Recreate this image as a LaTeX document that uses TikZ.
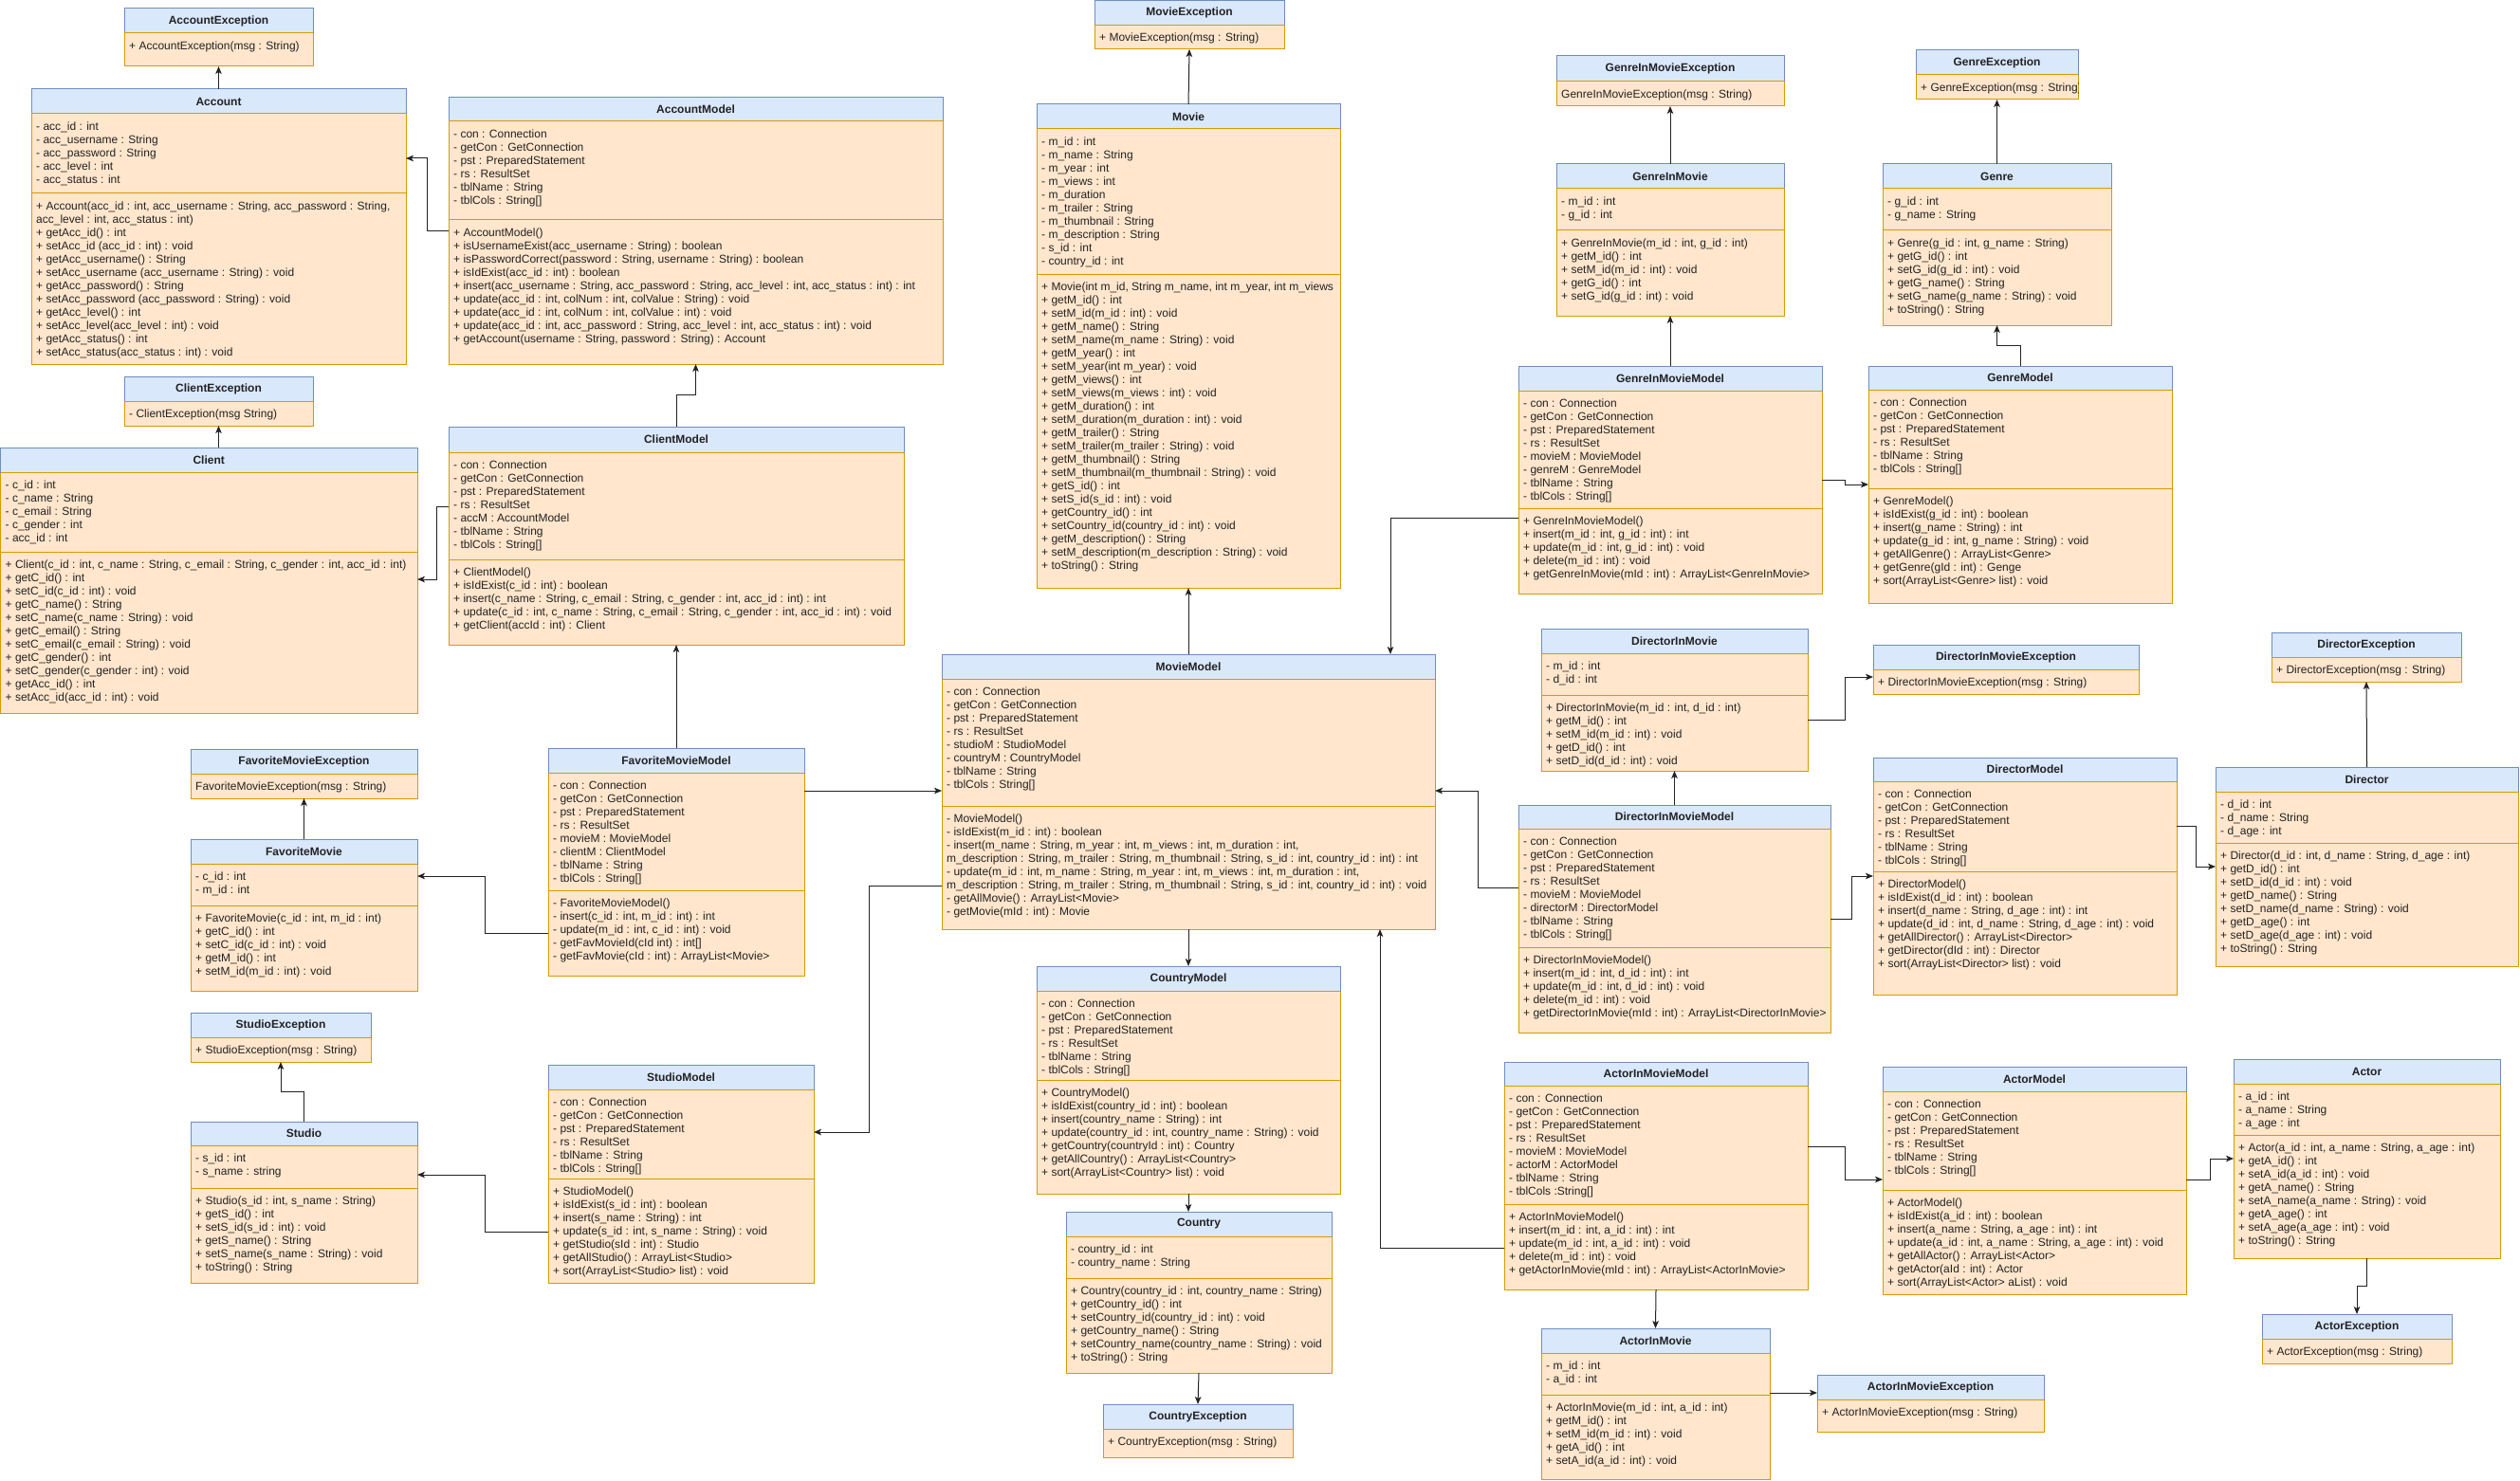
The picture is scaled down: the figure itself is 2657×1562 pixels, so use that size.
\documentclass[tikz,border=0pt]{standalone}
\usepackage{fontspec}
\setmainfont{Liberation Sans}
\usetikzlibrary{arrows.meta,fit}

\definecolor{headfill}{HTML}{DAE8FC}
\definecolor{headline}{HTML}{6C8EBF}
\definecolor{bodyfill}{HTML}{FFE6CC}
\definecolor{bodyline}{HTML}{D79B00}
\definecolor{ink}{HTML}{222222}

\tikzset{
  frame/.style={inner sep=0pt, outer sep=0pt},
  headbox/.style={fill=headfill, draw=headline, line width=1pt},
  bodybox/.style={fill=bodyfill, draw=bodyline, line width=1pt},
  sepline/.style={draw=bodyline, line width=1pt},
  classtitle/.style={font=\bfseries\fontsize{12pt}{14pt}\selectfont, text=ink, inner sep=0pt},
  members/.style={font=\fontsize{12pt}{14pt}\selectfont, text=ink, inner sep=0pt,
    anchor=base west, xshift=5pt, yshift=-17.5pt},
  link/.style={draw=ink, line width=1pt, -{Stealth[length=8pt,width=6.5pt,inset=2pt]}},
}

\newcommand\memberlist[1]{\parbox[t]{1200pt}{#1}}

% class box: name, top-left, bottom-right, header bottom, divider, title, attributes, operations
\newcommand\umlclass[8]{%
  \node[frame, fit={(#2) (#3)}] (#1) {};
  \path[bodybox] (#1.west |- 0,#4) rectangle (#1.south east);
  \path[headbox] (#1.north west) rectangle (#1.east |- 0,#4);
  \draw[sepline] (#1.west |- 0,#4) -- (#1.east |- 0,#4);
  \draw[sepline] (#1.west |- 0,#5) -- (#1.east |- 0,#5);
  \path (#1.north) -- (#1.north |- 0,#4) node[midway, classtitle] {#6};
  \begin{scope}
    \clip (#1.north west) rectangle (#1.south east);
    \node[members] at (#1.west |- 0,#4) {\memberlist{#7}};
    \node[members] at (#1.west |- 0,#5) {\memberlist{#8}};
  \end{scope}
}

% exception box: name, top-left, bottom-right, header bottom, title, constructor
\newcommand\umlexc[6]{%
  \node[frame, fit={(#2) (#3)}] (#1) {};
  \path[bodybox] (#1.west |- 0,#4) rectangle (#1.south east);
  \path[headbox] (#1.north west) rectangle (#1.east |- 0,#4);
  \draw[sepline] (#1.west |- 0,#4) -- (#1.east |- 0,#4);
  \path (#1.north) -- (#1.north |- 0,#4) node[midway, classtitle] {#5};
  \begin{scope}
    \clip (#1.north west) rectangle (#1.south east);
    \node[members] at (#1.west |- 0,#4) {\memberlist{#6}};
  \end{scope}
}

\catcode`\_=12

\begin{document}
\begin{tikzpicture}[x=1pt,y=-1pt]
\useasboundingbox (0,0) rectangle (2657,1562);
\fill[white] (0,0) rectangle (2657,1562);

% ---------------- account ----------------
\umlexc{accountexc}{131,9}{330,70}{35}{AccountException}{+ AccountException(msg : String)}
\umlclass{account}{33,94}{428,384}{120}{204}{Account}
{- acc_id : int\\- acc_username : String\\- acc_password : String\\- acc_level : int\\- acc_status : int}
{+ Account(acc_id : int, acc_username : String, acc_password : String,\\acc_level : int, acc_status : int)\\+ getAcc_id() : int\\+ setAcc_id (acc_id : int) : void\\+ getAcc_username() : String\\+ setAcc_username (acc_username : String) : void\\+ getAcc_password() : String\\+ setAcc_password (acc_password : String) : void\\+ getAcc_level() : int\\+ setAcc_level(acc_level : int) : void\\+ getAcc_status() : int\\+ setAcc_status(acc_status : int) : void}
\umlclass{accountmodel}{473,103}{994,384}{128}{232}{AccountModel}
{- con : Connection\\- getCon : GetConnection\\- pst : PreparedStatement\\- rs : ResultSet\\- tblName : String\\- tblCols : String[]}
{+ AccountModel()\\+ isUsernameExist(acc_username : String) : boolean\\+ isPasswordCorrect(password : String, username : String) : boolean\\+ isIdExist(acc_id : int) : boolean\\+ insert(acc_username : String, acc_password : String, acc_level : int, acc_status : int) : int\\+ update(acc_id : int, colNum : int, colValue : String) : void\\+ update(acc_id : int, colNum : int, colValue : int) : void\\+ update(acc_id : int, acc_password : String, acc_level : int, acc_status : int) : void\\+ getAccount(username : String, password : String) : Account}

% ---------------- client ----------------
\umlexc{clientexc}{131,397}{330,449}{423}{ClientException}{- ClientException(msg String)}
\umlclass{client}{0.5,472}{440,752}{498}{582}{Client}
{- c_id : int\\- c_name : String\\- c_email : String\\- c_gender : int\\- acc_id : int}
{+ Client(c_id : int, c_name : String, c_email : String, c_gender : int, acc_id : int)\\+ getC_id() : int\\+ setC_id(c_id : int) : void\\+ getC_name() : String\\+ setC_name(c_name : String) : void\\+ getC_email() : String\\+ setC_email(c_email : String) : void\\+ getC_gender() : int\\+ setC_gender(c_gender : int) : void\\+ getAcc_id() : int\\+ setAcc_id(acc_id : int) : void}
\umlclass{clientmodel}{473,450}{953,680}{477}{590}{ClientModel}
{- con : Connection\\- getCon : GetConnection\\- pst : PreparedStatement\\- rs : ResultSet\\- accM : AccountModel\\- tblName : String\\- tblCols : String[]}
{+ ClientModel()\\+ isIdExist(c_id : int) : boolean\\+ insert(c_name : String, c_email : String, c_gender : int, acc_id : int) : int\\+ update(c_id : int, c_name : String, c_email : String, c_gender : int, acc_id : int) : void\\+ getClient(accId : int) : Client}

% ---------------- favorite movie ----------------
\umlexc{favexc}{201,790}{440,842}{816}{FavoriteMovieException}{FavoriteMovieException(msg : String)}
\umlclass{favmovie}{201,885}{440,1045}{911}{955}{FavoriteMovie}
{- c_id : int\\- m_id : int}
{+ FavoriteMovie(c_id : int, m_id : int)\\+ getC_id() : int\\+ setC_id(c_id : int) : void\\+ getM_id() : int\\+ setM_id(m_id : int) : void}
\umlclass{favmodel}{578,789}{848,1029}{815}{939}{FavoriteMovieModel}
{- con : Connection\\- getCon : GetConnection\\- pst : PreparedStatement\\- rs : ResultSet\\- movieM : MovieModel\\- clientM : ClientModel\\- tblName : String\\- tblCols : String[]}
{- FavoriteMovieModel()\\- insert(c_id : int, m_id : int) : int\\- update(m_id : int, c_id : int) : void\\- getFavMovieId(cId int) : int[]\\- getFavMovie(cId : int) : ArrayList<Movie>}

% ---------------- studio ----------------
\umlexc{studioexc}{201,1068}{391,1120}{1094}{StudioException}{+ StudioException(msg : String)}
\umlclass{studio}{201,1183}{440,1353}{1208}{1253}{Studio}
{- s_id : int\\- s_name : string}
{+ Studio(s_id : int, s_name : String)\\+ getS_id() : int\\+ setS_id(s_id : int) : void\\+ getS_name() : String\\+ setS_name(s_name : String) : void\\+ toString() : String}
\umlclass{studiomodel}{578,1123}{858,1353}{1149}{1243}{StudioModel}
{- con : Connection\\- getCon : GetConnection\\- pst : PreparedStatement\\- rs : ResultSet\\- tblName : String\\- tblCols : String[]}
{+ StudioModel()\\+ isIdExist(s_id : int) : boolean\\+ insert(s_name : String) : int\\+ update(s_id : int, s_name : String) : void\\+ getStudio(sId : int) : Studio\\+ getAllStudio() : ArrayList<Studio>\\+ sort(ArrayList<Studio> list) : void}

% ---------------- movie ----------------
\umlexc{movieexc}{1154,1}{1354,52}{26.5}{MovieException}{+ MovieException(msg : String)}
\umlclass{movie}{1093,110}{1413,620}{136}{289}{Movie}
{- m_id : int\\- m_name : String\\- m_year : int\\- m_views : int\\- m_duration\\- m_trailer : String\\- m_thumbnail : String\\- m_description : String\\- s_id : int\\- country_id : int}
{+ Movie(int m_id, String m_name, int m_year, int m_views\\+ getM_id() : int\\+ setM_id(m_id : int) : void\\+ getM_name() : String\\+ setM_name(m_name : String) : void\\+ getM_year() : int\\+ setM_year(int m_year) : void\\+ getM_views() : int\\+ setM_views(m_views : int) : void\\+ getM_duration() : int\\+ setM_duration(m_duration : int) : void\\+ getM_trailer() : String\\+ setM_trailer(m_trailer : String) : void\\+ getM_thumbnail() : String\\+ setM_thumbnail(m_thumbnail : String) : void\\+ getS_id() : int\\+ setS_id(s_id : int) : void\\+ getCountry_id() : int\\+ setCountry_id(country_id : int) : void\\+ getM_description() : String\\+ setM_description(m_description : String) : void\\+ toString() : String}
\umlclass{moviemodel}{993,690}{1513,980}{716}{850}{MovieModel}
{- con : Connection\\- getCon : GetConnection\\- pst : PreparedStatement\\- rs : ResultSet\\- studioM : StudioModel\\- countryM : CountryModel\\- tblName : String\\- tblCols : String[]}
{- MovieModel()\\- isIdExist(m_id : int) : boolean\\- insert(m_name : String, m_year : int, m_views : int, m_duration : int,\\m_description : String, m_trailer : String, m_thumbnail : String, s_id : int, country_id : int) : int\\- update(m_id : int, m_name : String, m_year : int, m_views : int, m_duration : int,\\m_description : String, m_trailer : String, m_thumbnail : String, s_id : int, country_id : int) : void\\- getAllMovie() : ArrayList<Movie>\\- getMovie(mId : int) : Movie}

% ---------------- country ----------------
\umlclass{countrymodel}{1093,1019}{1413,1259}{1045}{1139}{CountryModel}
{- con : Connection\\- getCon : GetConnection\\- pst : PreparedStatement\\- rs : ResultSet\\- tblName : String\\- tblCols : String[]}
{+ CountryModel()\\+ isIdExist(country_id : int) : boolean\\+ insert(country_name : String) : int\\+ update(country_id : int, country_name : String) : void\\+ getCountry(countryId : int) : Country\\+ getAllCountry() : ArrayList<Country>\\+ sort(ArrayList<Country> list) : void}
\umlclass{country}{1124,1278}{1404,1448}{1304}{1348}{Country}
{- country_id : int\\- country_name : String}
{+ Country(country_id : int, country_name : String)\\+ getCountry_id() : int\\+ setCountry_id(country_id : int) : void\\+ getCountry_name() : String\\+ setCountry_name(country_name : String) : void\\+ toString() : String}
\umlexc{countryexc}{1163,1481}{1363,1537}{1507}{CountryException}{+ CountryException(msg : String)}

% ---------------- genre ----------------
\umlexc{gimexc}{1641,59}{1881,112}{86}{GenreInMovieException}{GenreInMovieException(msg : String)}
\umlexc{genreexc}{2020,53}{2191,105}{79}{GenreException}{+ GenreException(msg : String)}
\umlclass{gim}{1641,173}{1881,333}{199}{243}{GenreInMovie}
{- m_id : int\\- g_id : int}
{+ GenreInMovie(m_id : int, g_id : int)\\+ getM_id() : int\\+ setM_id(m_id : int) : void\\+ getG_id() : int\\+ setG_id(g_id : int) : void}
\umlclass{genre}{1985,173}{2226,343}{199}{243}{Genre}
{- g_id : int\\- g_name : String}
{+ Genre(g_id : int, g_name : String)\\+ getG_id() : int\\+ setG_id(g_id : int) : void\\+ getG_name() : String\\+ setG_name(g_name : String) : void\\+ toString() : String}
\umlclass{gimm}{1601,386}{1921,626}{412}{536}{GenreInMovieModel}
{- con : Connection\\- getCon : GetConnection\\- pst : PreparedStatement\\- rs : ResultSet\\- movieM : MovieModel\\- genreM : GenreModel\\- tblName : String\\- tblCols : String[]}
{+ GenreInMovieModel()\\+ insert(m_id : int, g_id : int) : int\\+ update(m_id : int, g_id : int) : void\\+ delete(m_id : int) : void\\+ getGenreInMovie(mId : int) : ArrayList<GenreInMovie>}
\umlclass{genremodel}{1970,386}{2290,636}{411}{515}{GenreModel}
{- con : Connection\\- getCon : GetConnection\\- pst : PreparedStatement\\- rs : ResultSet\\- tblName : String\\- tblCols : String[]}
{+ GenreModel()\\+ isIdExist(g_id : int) : boolean\\+ insert(g_name : String) : int\\+ update(g_id : int, g_name : String) : void\\+ getAllGenre() : ArrayList<Genre>\\+ getGenre(gId : int) : Genge\\+ sort(ArrayList<Genre> list) : void}

% ---------------- director ----------------
\umlclass{dim}{1625,663}{1906,813}{689}{733}{DirectorInMovie}
{- m_id : int\\- d_id : int}
{+ DirectorInMovie(m_id : int, d_id : int)\\+ getM_id() : int\\+ setM_id(m_id : int) : void\\+ getD_id() : int\\+ setD_id(d_id : int) : void}
\umlexc{dimexc}{1975,680}{2255,732}{706}{DirectorInMovieException}{+ DirectorInMovieException(msg : String)}
\umlclass{directormodel}{1975,799}{2295,1049}{824}{919}{DirectorModel}
{- con : Connection\\- getCon : GetConnection\\- pst : PreparedStatement\\- rs : ResultSet\\- tblName : String\\- tblCols : String[]}
{+ DirectorModel()\\+ isIdExist(d_id : int) : boolean\\+ insert(d_name : String, d_age : int) : int\\+ update(d_id : int, d_name : String, d_age : int) : void\\+ getAllDirector() : ArrayList<Director>\\+ getDirector(dId : int) : Director\\+ sort(ArrayList<Director> list) : void}
\umlclass{dimm}{1601,849}{1930,1089}{874}{999}{DirectorInMovieModel}
{- con : Connection\\- getCon : GetConnection\\- pst : PreparedStatement\\- rs : ResultSet\\- movieM : MovieModel\\- directorM : DirectorModel\\- tblName : String\\- tblCols : String[]}
{+ DirectorInMovieModel()\\+ insert(m_id : int, d_id : int) : int\\+ update(m_id : int, d_id : int) : void\\+ delete(m_id : int) : void\\+ getDirectorInMovie(mId : int) : ArrayList<DirectorInMovie>}
\umlexc{directorexc}{2395,667}{2595,719}{693}{DirectorException}{+ DirectorException(msg : String)}
\umlclass{director}{2336,809}{2655,1019}{835}{889}{Director}
{- d_id : int\\- d_name : String\\- d_age : int}
{+ Director(d_id : int, d_name : String, d_age : int)\\+ getD_id() : int\\+ setD_id(d_id : int) : void\\+ getD_name() : String\\+ setD_name(d_name : String) : void\\+ getD_age() : int\\+ setD_age(d_age : int) : void\\+ toString() : String}

% ---------------- actor ----------------
\umlclass{aimm}{1586,1120}{1906,1360}{1145}{1270}{ActorInMovieModel}
{- con : Connection\\- getCon : GetConnection\\- pst : PreparedStatement\\- rs : ResultSet\\- movieM : MovieModel\\- actorM : ActorModel\\- tblName : String\\- tblCols :String[]}
{+ ActorInMovieModel()\\+ insert(m_id : int, a_id : int) : int\\+ update(m_id : int, a_id : int) : void\\+ delete(m_id : int) : void\\+ getActorInMovie(mId : int) : ArrayList<ActorInMovie>}
\umlclass{actormodel}{1985,1125}{2305,1365}{1151}{1255}{ActorModel}
{- con : Connection\\- getCon : GetConnection\\- pst : PreparedStatement\\- rs : ResultSet\\- tblName : String\\- tblCols : String[]}
{+ ActorModel()\\+ isIdExist(a_id : int) : boolean\\+ insert(a_name : String, a_age : int) : int\\+ update(a_id : int, a_name : String, a_age : int) : void\\+ getAllActor() : ArrayList<Actor>\\+ getActor(aId : int) : Actor\\+ sort(ArrayList<Actor> aList) : void}
\umlclass{aim}{1625,1401}{1866,1560.5}{1427}{1471}{ActorInMovie}
{- m_id : int\\- a_id : int}
{+ ActorInMovie(m_id : int, a_id : int)\\+ getM_id() : int\\+ setM_id(m_id : int) : void\\+ getA_id() : int\\+ setA_id(a_id : int) : void}
\umlexc{aimexc}{1916,1450}{2155,1510}{1476}{ActorInMovieException}{+ ActorInMovieException(msg : String)}
\umlclass{actor}{2355,1117}{2636,1327}{1143}{1197}{Actor}
{- a_id : int\\- a_name : String\\- a_age : int}
{+ Actor(a_id : int, a_name : String, a_age : int)\\+ getA_id() : int\\+ setA_id(a_id : int) : void\\+ getA_name() : String\\+ setA_name(a_name : String) : void\\+ getA_age() : int\\+ setA_age(a_age : int) : void\\+ toString() : String}
\umlexc{actorexc}{2385,1386}{2585,1438}{1412}{ActorException}{+ ActorException(msg : String)}

% ---------------- connectors ----------------
\draw[link] (account.north) -- (accountexc.south);
\draw[link] (accountmodel.west |- 0,244) -- ++(-23,0) |- (account.east |- 0,167);
\draw[link] (clientmodel.north) -- ++(0,-34) -| (accountmodel.south);
\draw[link] (clientmodel.west |- 0,534) -- ++(-13,0) |- (client.east |- 0,611);
\draw[link] (client.north -| clientexc.south) -- (clientexc.south);
\draw[link] (favmodel.north) -- (clientmodel.south);
\draw[link] (favmodel.east |- 0,834) -- (moviemodel.west |- 0,834);
\draw[link] (favmodel.west |- 0,984) -- ++(-67,0) |- (favmovie.east |- 0,924);
\draw[link] (favmovie.north) -- (favexc.south);
\draw[link] (moviemodel.west |- 0,934) -- ++(-77,0) |- (studiomodel.east |- 0,1194);
\draw[link] (studiomodel.west |- 0,1299) -- ++(-67,0) |- (studio.east |- 0,1239);
\draw[link] (studio.north) -- ++(0,-32) -| (studioexc.south);
\draw[link] (movie.north) -- (movieexc.south);
\draw[link] (moviemodel.north) -- (movie.south);
\draw[link] (moviemodel.south) -- (countrymodel.north);
\draw[link] (countrymodel.south) -- (country.north -| countrymodel.south);
\draw[link] (country.south) -- (countryexc.north);
\draw[link] (gimm.west |- 0,546) -| (moviemodel.north -| 1466,0);
\draw[link] (gim.north) -- (gimexc.south);
\draw[link] (gimm.north) -- (gim.south);
\draw[link] (genre.north) -- (genreexc.south);
\draw[link] (genremodel.north) -- ++(0,-22) -| (genre.south);
\draw[link] (gimm.east |- 0,506) -- ++(24,0) |- (genremodel.west |- 0,511);
\draw[link] (dim.east |- 0,759) -- ++(39,0) |- (dimexc.west |- 0,714);
\draw[link] (dimm.north) -- (dim.south);
\draw[link] (dimm.west |- 0,936) -- ++(-43,0) |- (moviemodel.east |- 0,834);
\draw[link] (dimm.east |- 0,969) -- ++(22,0) |- (directormodel.west |- 0,924);
\draw[link] (directormodel.east |- 0,871) -- ++(20,0) |- (director.west |- 0,914);
\draw[link] (director.north) -- (directorexc.south);
\draw[link] (aimm.west |- 0,1316) -| (moviemodel.south -| 1455,0);
\draw[link] (aimm.east |- 0,1209) -- ++(39,0) |- (actormodel.west |- 0,1244);
\draw[link] (aimm.south) -- (aim.north);
\draw[link] (aim.east |- 0,1469) -- (aimexc.west |- 0,1469);
\draw[link] (actormodel.east |- 0,1244) -- ++(25,0) |- (actor.west |- 0,1222);
\draw[link] (actor.south) -- ++(0,29) -| (actorexc.north);
\end{tikzpicture}
\end{document}
